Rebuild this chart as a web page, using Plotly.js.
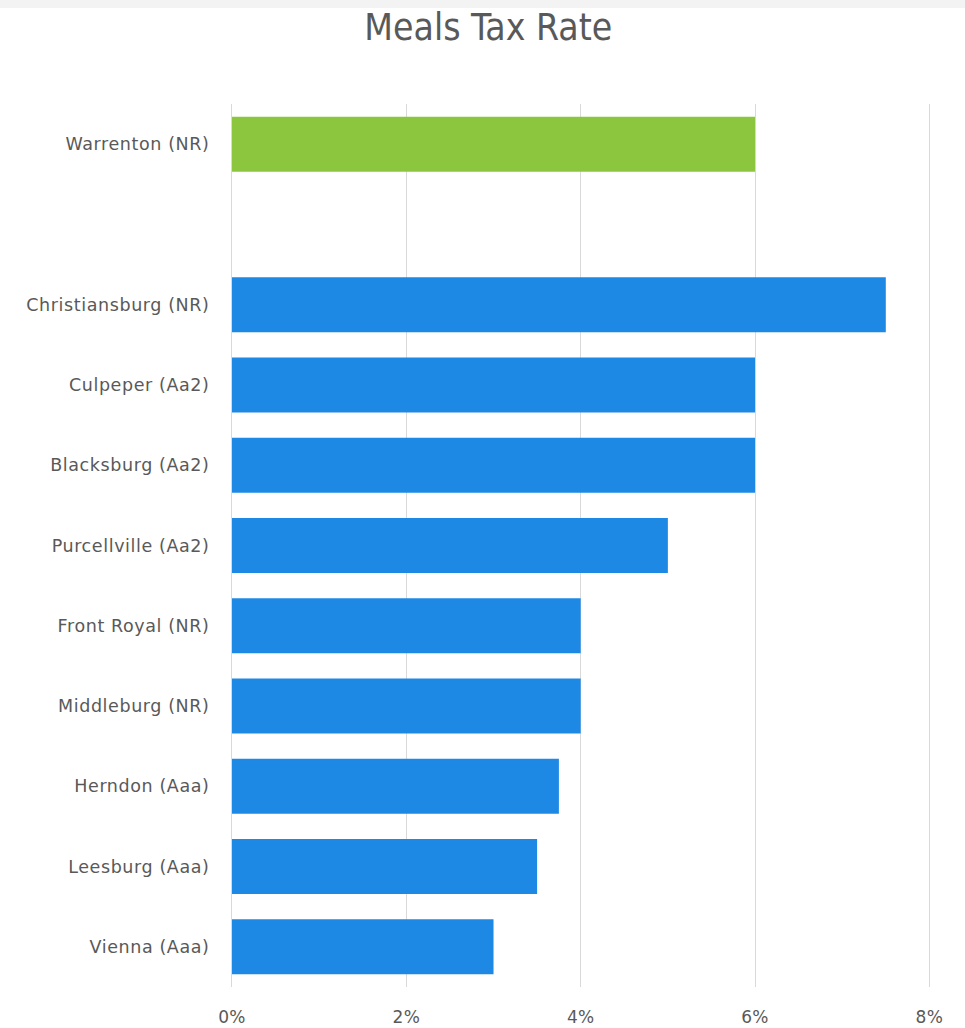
<!DOCTYPE html>
<html>
<head>
<meta charset="utf-8">
<script src="https://cdn.plot.ly/plotly-3.0.1.min.js"></script>
<style>
html,body{margin:0;padding:0;background:#fff;}
#chart{width:965px;height:1028px;}
#band{position:absolute;left:0;top:0;width:965px;height:8px;background:#f3f3f3;z-index:5;}
#chart .ytick text{letter-spacing:0.6px;}
#chart .xtick text{letter-spacing:0.3px;}
</style>
</head>
<body>
<div id="band"></div>
<div id="chart"></div>
<script>
const categories = ["Warrenton (NR)", " ", "Christiansburg (NR)", "Culpeper (Aa2)", "Blacksburg (Aa2)", "Purcellville (Aa2)", "Front Royal (NR)", "Middleburg (NR)", "Herndon (Aaa)", "Leesburg (Aaa)", "Vienna (Aaa)"];
const rates = [0.06, null, 0.075, 0.06, 0.06, 0.05, 0.04, 0.04, 0.0375, 0.035, 0.03];
const highlight = "Warrenton (NR)";
const xTicks = [0, 0.02, 0.04, 0.06, 0.08];
const xTickLabels = ["0%", "2%", "4%", "6%", "8%"];

const titleFont = "'DejaVu Sans Condensed', 'DejaVu Sans', sans-serif";
const tickFont = "'DejaVu Sans', sans-serif";
const colors = categories.map(c => c === highlight ? "#8CC63F" : "#1E88E5");

const data = [{
  type: "bar",
  orientation: "h",
  y: categories,
  x: rates,
  marker: {color: colors},
  hoverinfo: "x+y"
}];

const layout = {
  width: 965, height: 1028,
  margin: {l: 232, r: 33, t: 104, b: 41},
  paper_bgcolor: "#fff", plot_bgcolor: "#fff",
  showlegend: false,
  bargap: 0.315,
  title: {text: "Meals Tax Rate", x: 0.506, xanchor: "center", y: 0.974, yanchor: "middle",
          font: {family: titleFont, size: 37, color: "#595959"}},
  xaxis: {
    range: [0, 0.0803], tickvals: xTicks, ticktext: xTickLabels,
    showgrid: true, gridcolor: "#d9d9d9", gridwidth: 1,
    zeroline: false, showline: false, ticks: "",
    ticklabelstandoff: 18,
    tickfont: {family: tickFont, size: 17, color: "#595959"},
    fixedrange: true
  },
  yaxis: {
    type: "category", categoryorder: "array", categoryarray: categories,
    autorange: "reversed",
    showgrid: false, zeroline: false, showline: true, linecolor: "#d9d9d9", linewidth: 1,
    ticks: "", ticklabelstandoff: 18,
    tickfont: {family: tickFont, size: 17.5, color: "#595959"},
    fixedrange: true
  }
};

Plotly.newPlot("chart", data, layout, {displayModeBar: false, staticPlot: true});
</script>
</body>
</html>
